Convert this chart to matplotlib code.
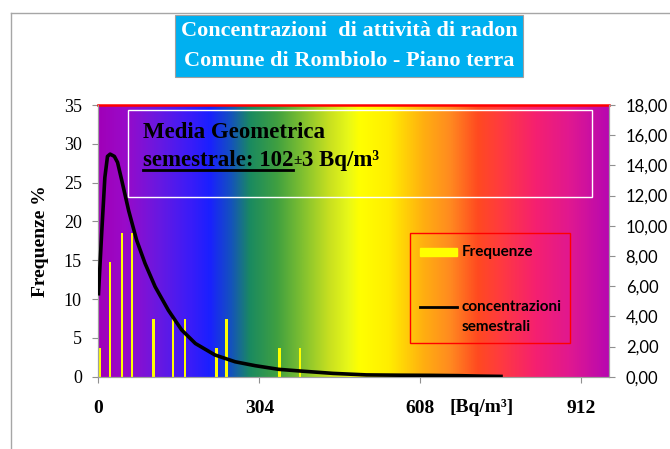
import matplotlib
matplotlib.use('Agg')
import matplotlib.pyplot as plt
import numpy as np
from matplotlib.colors import LinearSegmentedColormap
from matplotlib.patches import Rectangle
from matplotlib.lines import Line2D
from matplotlib.ticker import FuncFormatter

# Frequency bars (left axis, %)
bar_x = [3, 22, 44, 63, 104, 141, 163, 223, 242, 342, 381]
bar_freq = [3.7, 14.8, 18.5, 18.5, 7.4, 7.4, 7.4, 3.7, 7.4, 3.7, 3.7]

# Semestral concentration curve (right axis)
curve_x = [0, 6, 12, 17, 22, 30, 36, 44, 57, 72, 88, 107, 132, 157, 183, 220,
           258, 296, 340, 380, 443, 506, 570, 626, 680, 720, 760]
curve_y = [5.5, 9.5, 13.2, 14.6, 14.75, 14.6, 14.2, 13.0, 11.0, 9.05, 7.5, 5.96,
           4.4, 3.1, 2.2, 1.44, 0.99, 0.73, 0.49, 0.38, 0.22, 0.12, 0.10, 0.09,
           0.07, 0.04, 0.02]

x_ticks = [0, 304, 608, 912]
left_ticks = [0, 5, 10, 15, 20, 25, 30, 35]
right_ticks = [0, 2, 4, 6, 8, 10, 12, 14, 16, 18]

title_lines = ['Concentrazioni  di attività di radon', 'Comune di Rombiolo - Piano terra']

# rainbow background stops (fraction, colour)
bg_stops = [(0.0, '#a000b8'), (0.05, '#9a0ac8'), (0.115, '#6a18e0'), (0.18, '#3a1cf8'),
            (0.218, '#1a20ff'), (0.258, '#1450c0'), (0.297, '#1a8a60'), (0.35, '#40a040'),
            (0.40, '#80c030'), (0.453, '#c8e020'), (0.49, '#e8f818'), (0.512, '#ffff00'),
            (0.57, '#ffee00'), (0.636, '#ffb010'), (0.69, '#ff8a20'), (0.744, '#ff4a20'),
            (0.79, '#ff3a40'), (0.858, '#f52070'), (0.925, '#e01890'), (1.0, '#b808b0')]

serif = 'Liberation Serif'

fig = plt.figure(figsize=(6.7, 4.49), dpi=100)
ax = fig.add_axes([0.147, 0.161, 0.762, 0.605])

# background gradient
cmap = LinearSegmentedColormap.from_list('bg', bg_stops)
grad = np.linspace(0, 1, 512).reshape(1, -1)
ax.imshow(grad, cmap=cmap, aspect='auto', extent=[0, 1, 0, 1],
          transform=ax.transAxes, zorder=0, interpolation='bilinear')

ax.bar(bar_x, bar_freq, width=4.5, color='#ffff00', zorder=2)
ax.set_xlim(0, 964)
ax.set_ylim(0, 35)
ax.set_yticks(left_ticks)
ax.set_xticks(x_ticks)
ax.set_xticklabels([str(t) for t in x_ticks], fontfamily=serif, fontweight='bold', fontsize=14)
ax.set_yticklabels([str(t) for t in left_ticks], fontfamily=serif, fontsize=13)
ax.tick_params(axis='x', length=4, color='#909090', pad=13)
ax.tick_params(axis='y', length=4, color='#909090', pad=8)
ax.set_ylabel('Frequenze %', fontfamily=serif, fontweight='bold', fontsize=14)
ax.yaxis.set_label_coords(-0.097, 0.5)
ax.text(0.751, -0.115, '[Bq/m³]', transform=ax.transAxes, ha='center', va='center',
        fontfamily=serif, fontweight='bold', fontsize=14)

for s in ['left', 'right', 'bottom']:
    ax.spines[s].set_color('#a0a0a0')
ax.spines['top'].set_color('#ff0000')
ax.spines['top'].set_linewidth(1.8)

ax2 = ax.twinx()
ax2.plot(curve_x, curve_y, color='black', lw=2.6, solid_joinstyle='round', zorder=3)
ax2.set_ylim(0, 18)
ax2.set_yticks(right_ticks)
ax2.yaxis.set_major_formatter(FuncFormatter(lambda v, p: f'{v:.2f}'.replace('.', ',')))
for lab in ax2.get_yticklabels():
    lab.set_fontfamily('Lato')
    lab.set_fontsize(12)
ax2.tick_params(axis='y', length=4, color='#909090', pad=8)
for s in ['left', 'right', 'bottom']:
    ax2.spines[s].set_color('#a0a0a0')
ax2.spines['top'].set_visible(False)

# white box with geometric mean
ax2.add_patch(Rectangle((0.058, 0.6625), 0.909, 0.3195, transform=ax2.transAxes,
                        fill=False, edgecolor='white', lw=1, zorder=4))
ax2.text(0.087, 0.900, 'Media Geometrica', transform=ax2.transAxes, va='center',
         fontfamily=serif, fontweight='bold', fontsize=16.5, zorder=5)
t1 = ax2.text(0.087, 0.795, 'semestrale: 102', transform=ax2.transAxes, va='center',
              fontfamily=serif, fontweight='bold', fontsize=16.5, zorder=5)
fig.canvas.draw()
bb = t1.get_window_extent(renderer=fig.canvas.get_renderer())
inv = ax2.transAxes.inverted()
(x0, y0), (x1, y1) = inv.transform([[bb.x0, bb.y0], [bb.x1, bb.y1]])
ax2.add_line(Line2D([x0, x1], [y0 + 0.006, y0 + 0.006], transform=ax2.transAxes,
                    color='black', lw=2, zorder=5))
ax2.text(x1, 0.795, '±', transform=ax2.transAxes, va='center',
         fontfamily=serif, fontweight='bold', fontsize=11, zorder=5)
ax2.text(x1 + 0.016, 0.795, '3 Bq/m³', transform=ax2.transAxes, va='center',
         fontfamily=serif, fontweight='bold', fontsize=16.5, zorder=5)

# legend
ax2.add_patch(Rectangle((0.610, 0.124), 0.3135, 0.406, transform=ax2.transAxes,
                        fill=False, edgecolor='#ff0000', lw=1, zorder=4))
ax2.add_patch(Rectangle((0.6295, 0.445), 0.0735, 0.03, transform=ax2.transAxes,
                        color='#ffff00', zorder=5))
ax2.add_line(Line2D([0.6295, 0.703], [0.2565, 0.2565], transform=ax2.transAxes,
                    color='black', lw=2, zorder=5))
ax2.text(0.711, 0.46, 'Frequenze', transform=ax2.transAxes, va='center',
         fontfamily='Lato', fontweight='bold', fontsize=11, zorder=5)
ax2.text(0.711, 0.2565, 'concentrazioni', transform=ax2.transAxes, va='center',
         fontfamily='Lato', fontweight='bold', fontsize=11, zorder=5)
ax2.text(0.711, 0.182, 'semestrali', transform=ax2.transAxes, va='center',
         fontfamily='Lato', fontweight='bold', fontsize=11, zorder=5)

# title box
fig.add_artist(Rectangle((0.261, 0.8285), 0.519, 0.138, transform=fig.transFigure,
                         facecolor='#00b0f0', edgecolor='#a0a0a0', lw=0.8))
fig.text(0.521, 0.930, title_lines[0], ha='center', va='center', color='white',
         fontfamily=serif, fontweight='bold', fontsize=16)
fig.text(0.521, 0.864, title_lines[1], ha='center', va='center', color='white',
         fontfamily=serif, fontweight='bold', fontsize=16)

# outer frame lines
fig.add_artist(Line2D([11 / 670, 1], [1 - 13 / 449, 1 - 13 / 449], transform=fig.transFigure,
                      color='#a6a6a6', lw=1))
fig.add_artist(Line2D([11 / 670, 11 / 670], [0, 1 - 13 / 449], transform=fig.transFigure,
                      color='#a6a6a6', lw=1))

fig.savefig('out.png', dpi=100)
